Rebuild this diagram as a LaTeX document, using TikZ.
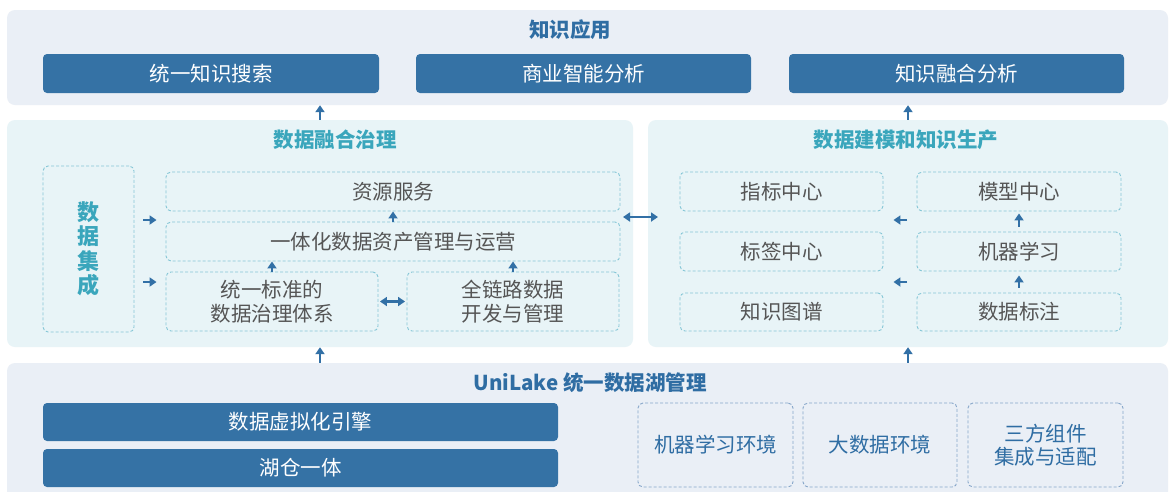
\documentclass[tikz,border=0pt]{standalone}
\usepackage{fontspec}
\setmainfont{Noto Sans CJK SC}
\usetikzlibrary{arrows.meta}
\definecolor{panelA}{HTML}{EAEFF6}
\definecolor{panelB}{HTML}{E8F4F7}
\definecolor{boxblue}{HTML}{3572A5}
\definecolor{tealc}{HTML}{3AA6BC}
\definecolor{navy}{HTML}{2F6DA3}
\definecolor{graytxt}{HTML}{555555}
\definecolor{dashc}{HTML}{85C6D6}
\definecolor{dashb}{HTML}{86A6C9}
\definecolor{arrowc}{HTML}{3270A6}
\begin{document}
\begin{tikzpicture}[x=1pt,y=-1pt,
  panel/.style={draw=none,rounded corners=8pt,inner sep=0pt},
  ptitle/.style={font=\fontsize{20.5}{24}\selectfont\bfseries,inner sep=0pt},
  bluebox/.style={fill=boxblue,draw=none,rounded corners=4pt,text=white,inner sep=0pt,
    font=\fontsize{20.5}{24}\selectfont},
  dbox/.style={draw=dashc,line width=0.9pt,dash pattern=on 3pt off 2pt,rounded corners=5pt,
    inner sep=0pt,text=graytxt,align=center,font=\fontsize{20.5}{24.5}\selectfont},
  ebox/.style={draw=dashb,line width=0.9pt,dash pattern=on 3pt off 2pt,rounded corners=5pt,
    inner sep=0pt,text=navy,align=center,font=\fontsize{20.5}{23.5}\selectfont},
  arr/.style={draw=arrowc,line width=2.6pt,-{Triangle[length=7pt,width=9pt]}},
  darr/.style={draw=arrowc,line width=2.6pt,{Triangle[length=7pt,width=9pt]}-{Triangle[length=7pt,width=9pt]}}
]
\useasboundingbox (0,0) rectangle (1169,491);
\clip (0,0) rectangle (1169,491);
\fill[white] (0,0) rectangle (1169,491);

% panels
\node[panel,fill=panelA,minimum width=1161pt,minimum height=95pt] (top) at (587.5,57.5) {};
\node[panel,fill=panelB,minimum width=626pt,minimum height=227pt] (midL) at (320,233.5) {};
\node[panel,fill=panelB,minimum width=520pt,minimum height=227pt] (midR) at (908,233.5) {};
\node[panel,fill=panelA,minimum width=1161pt,minimum height=140pt] (bot) at (587.5,433) {};

% top
\node[ptitle,text=navy] (ttop) at (570,30) {知识应用};
\node[bluebox,minimum width=336pt,minimum height=39pt] (s1) at (211,73.5) {统一知识搜索};
\node[bluebox,minimum width=335pt,minimum height=39pt] (s2) at (583.5,73.5) {商业智能分析};
\node[bluebox,minimum width=335pt,minimum height=39pt] (s3) at (956.5,73.5) {知识融合分析};

% middle left
\node[ptitle,text=tealc] (tml) at (335,140) {数据融合治理};
\node[dbox,minimum width=91pt,minimum height=166pt,text=tealc,
  font=\fontsize{22}{24.5}\selectfont\bfseries] (di) at (88.5,249) {数\\据\\集\\成};
\node[dbox,minimum width=454pt,minimum height=39pt] (r1) at (393,191.5) {资源服务};
\node[dbox,minimum width=454pt,minimum height=39pt] (r2) at (393,241.5) {一体化数据资产管理与运营};
\node[dbox,minimum width=212pt,minimum height=59pt] (r3) at (272,301.5) {统一标准的\\数据治理体系};
\node[dbox,minimum width=212pt,minimum height=59pt] (r4) at (513,301.5) {全链路数据\\开发与管理};

% middle right
\node[ptitle,text=tealc] (tmr) at (906,140) {数据建模和知识生产};
\node[dbox,minimum width=203pt,minimum height=39pt] (k1) at (781.5,191.5) {指标中心};
\node[dbox,minimum width=203pt,minimum height=39pt] (k2) at (781.5,251.5) {标签中心};
\node[dbox,minimum width=203pt,minimum height=38pt] (k3) at (781.5,312) {知识图谱};
\node[dbox,minimum width=204pt,minimum height=39pt] (m1) at (1019,191.5) {模型中心};
\node[dbox,minimum width=204pt,minimum height=39pt] (m2) at (1019,251.5) {机器学习};
\node[dbox,minimum width=204pt,minimum height=38pt] (m3) at (1019,312) {数据标注};

% bottom
\node[ptitle,text=navy] (tbot) at (590,383) {UniLake 统一数据湖管理};
\node[bluebox,minimum width=515pt,minimum height=38pt] (b1) at (300.5,422) {数据虚拟化引擎};
\node[bluebox,minimum width=515pt,minimum height=38pt] (b2) at (300.5,468) {湖仓一体};
\node[ebox,minimum width=155pt,minimum height=84pt] (e1) at (715.5,445) {机器学习环境};
\node[ebox,minimum width=154pt,minimum height=84pt] (e2) at (880,445) {大数据环境};
\node[ebox,minimum width=155pt,minimum height=84pt] (e3) at (1045.5,445) {三方组件\\集成与适配};

% coordinates for free arrow ends
\coordinate (ia) at (143,220);
\coordinate (ib) at (143,282);
\coordinate (pa) at (623,217);
\coordinate (pb) at (658,217);
\coordinate (ka) at (907,220);
\coordinate (kb) at (907,282);

% arrows between layers
\draw[arr] (midL.north) -- (midL.north |- top.south);
\draw[arr] (midR.north) -- (midR.north |- top.south);
\draw[arr] (midL.south |- bot.north) -- (midL.south);
\draw[arr] (midR.south |- bot.north) -- (midR.south);

% middle left arrows
\draw[arr,shorten >=9pt] (ia) -- (ia -| r2.west);
\draw[arr,shorten >=9pt] (ib) -- (ib -| r3.west);
\draw[arr] (r2.north) -- (r1.south);
\draw[arr] (r3.north) -- (r3.north |- r2.south);
\draw[arr] (r4.north) -- (r4.north |- r2.south);
\draw[darr,shorten <=1.5pt,shorten >=1.5pt] (r3.east) -- (r4.west);
\draw[darr] (pa) -- (pb);

% middle right arrows
\draw[arr,shorten >=10pt] (ka) -- (ka -| k1.east);
\draw[arr,shorten >=10pt] (kb) -- (kb -| k2.east);
\draw[arr,shorten <=5pt,shorten >=2pt] (m2.north) -- (m1.south);
\draw[arr,shorten <=5pt,shorten >=4pt] (m3.north) -- (m2.south);
\end{tikzpicture}
\end{document}
